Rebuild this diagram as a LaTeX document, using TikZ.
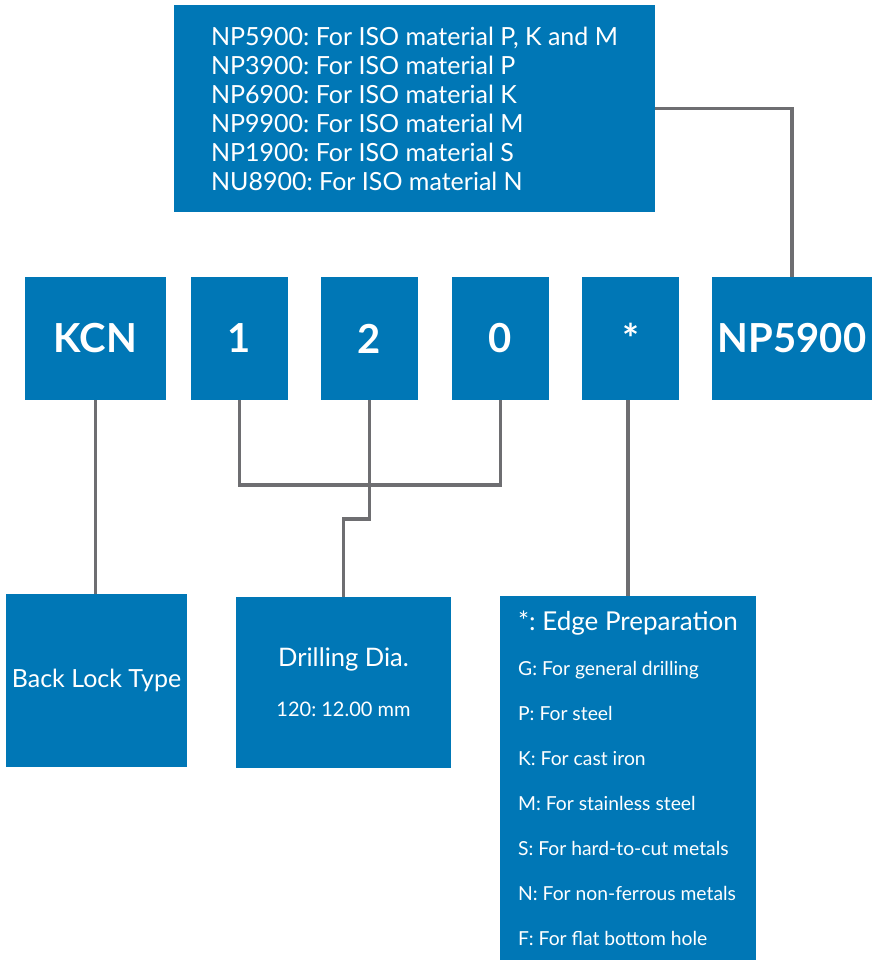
\documentclass[tikz,border=0pt]{standalone}
\usepackage{fontspec}
\setmainfont{Lato}
\usetikzlibrary{positioning}
\definecolor{codeblue}{RGB}{0,119,182}
\definecolor{linkgray}{RGB}{110,110,113}

\begin{document}
\frenchspacing
\begin{tikzpicture}[x=1pt, y=-1pt,
    every node/.style={fill=codeblue, text=white, inner sep=0pt},
    codebox/.style={minimum height=123pt, font=\fontsize{40}{42}\selectfont\bfseries},
    link/.style={linkgray, line width=3.5pt}]
\useasboundingbox (0,0) rectangle (872,960);
% material grades
\node[minimum width=481pt, minimum height=207pt, align=left,
      font=\fontsize{25}{29}\selectfont] (materials) at (414.5,108.5) {
    NP5900: For ISO material P, K and M\\
    NP3900: For ISO material P\\
    NP6900: For ISO material K\\
    NP9900: For ISO material M\\
    NP1900: For ISO material S\\
    NU8900: For ISO material N
};
% code row
\node[codebox, minimum width=141pt] (kcn) at (95.5,338.5) {KCN};
\node[codebox, minimum width=97pt] (one) at (239.5,338.5) {1};
\node[codebox, minimum width=97pt] (two) at (369.5,338.5) {2};
\node[codebox, minimum width=97pt] (zero) at (500.5,338.5) {0};
\node[codebox, minimum width=97pt] (star) at (630.5,338.5) {*};
\node[codebox, minimum width=160pt] (grade) at (792,338.5) {NP5900};
% explanations
\node[minimum width=181pt, minimum height=173pt, font=\fontsize{25}{28}\selectfont]
    (backlock) at (96.5,680.5) {Back Lock Type};
\node[minimum width=215pt, minimum height=171pt, align=center,
      font=\fontsize{20}{20}\selectfont] (drill) at (343.5,682.5) {
    {\fontsize{25.5}{20}\selectfont Drilling Dia.}\\[30pt]
    120: 12.00 mm
};
\node[minimum width=256pt, minimum height=364pt, align=left,
      font=\fontsize{19.3}{45}\selectfont] (edge) at (628,778) {
    {\fontsize{26}{45}\selectfont *: Edge Preparation}\\
    G: For general drilling\\
    P: For steel\\
    K: For cast iron\\
    M: For stainless steel\\
    S: For hard-to-cut metals\\
    N: For non-ferrous metals\\
    F: For flat bottom hole
};
% connectors
\coordinate (joint) at (371,485);
\draw[link] (materials.east) -| (grade.north);
\draw[link] (kcn.south) -- (kcn.south |- backlock.north);
\draw[link] (one.south) |- (joint) -| (zero.south);
\draw[link] (two.south) -- ++(0,119) -| (drill.north);
\draw[link] (edge.north |- star.south) -- (edge.north);
\end{tikzpicture}
\end{document}
